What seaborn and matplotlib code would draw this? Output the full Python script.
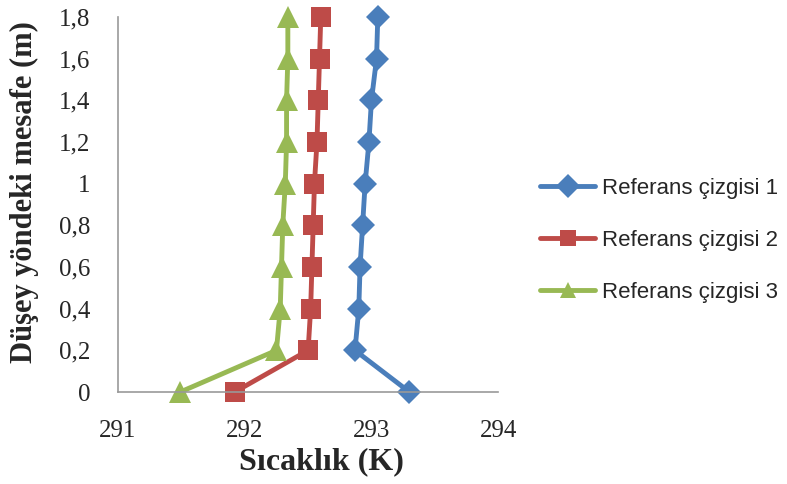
import pandas as pd
import matplotlib.pyplot as plt
import seaborn as sns

# Datos
mesafe = [0, 0.2, 0.4, 0.6, 0.8, 1.0, 1.2, 1.4, 1.6, 1.8]
cizgi1 = [293.30, 292.87, 292.90, 292.91, 292.93, 292.95, 292.98, 293.00, 293.04, 293.05]
cizgi2 = [291.92, 292.50, 292.52, 292.53, 292.54, 292.55, 292.57, 292.58, 292.59, 292.60]
cizgi3 = [291.49, 292.25, 292.28, 292.29, 292.30, 292.32, 292.33, 292.33, 292.34, 292.34]
seriler = ["Referans çizgisi 1", "Referans çizgisi 2", "Referans çizgisi 3"]
x_ticks = [291, 292, 293, 294]
y_ticks = [0, 0.2, 0.4, 0.6, 0.8, 1.0, 1.2, 1.4, 1.6, 1.8]

renkler = ["#4A7EBB", "#BE4B48", "#98B954"]
isaretler = ["D", "s", "^"]
boyutlar = [12, 15, 16]

df = pd.concat([
    pd.DataFrame({"mesafe": mesafe, "sicaklik": vals, "seri": name})
    for name, vals in zip(seriler, [cizgi1, cizgi2, cizgi3])
])

sns.set_style("white")
plt.rcParams['font.family'] = ['Liberation Serif', 'DejaVu Serif']

fig = plt.figure(figsize=(7.87, 4.84), dpi=100)
ax = fig.add_axes([0.150, 0.190, 0.483, 0.775])

sns.lineplot(data=df, x="sicaklik", y="mesafe", hue="seri", style="seri",
             palette=dict(zip(seriler, renkler)),
             markers=dict(zip(seriler, isaretler)), dashes=False,
             sort=False, estimator=None, orient="y",
             linewidth=3.5, markersize=12, markeredgewidth=0, ax=ax)

# tamaño de marcador por serie
for line, ms in zip(ax.lines[:3], boyutlar):
    line.set_markersize(ms)
    line.set_clip_on(False)

ax.set_xlim(291, 294)
ax.set_ylim(0, 1.8)
ax.set_xticks(x_ticks)
ax.set_xticklabels([str(t) for t in x_ticks])
ax.set_yticks(y_ticks)
ax.set_yticklabels([f"{t:g}".replace(".", ",") for t in y_ticks])
ax.tick_params(axis="both", length=0, labelsize=18)
ax.tick_params(axis="y", pad=20)
ax.tick_params(axis="x", pad=20)

for s in ["top", "right"]:
    ax.spines[s].set_visible(False)
for s in ["left", "bottom"]:
    ax.spines[s].set_color("#999999")
    ax.spines[s].set_linewidth(1.2)

ax.set_xlabel("Sıcaklık (K)", fontsize=23, fontweight="bold", va="center")
ax.set_ylabel("Düşey yöndeki mesafe (m)", fontsize=22, fontweight="bold", va="center")
ax.xaxis.set_label_coords(0.534, -0.187)
ax.yaxis.set_label_coords(-0.247, 0.533)

handles, labels = ax.get_legend_handles_labels()
ax.legend(handles, labels, loc="center left", bbox_to_anchor=(1.057, 0.405),
          frameon=False, handlelength=2.5, handletextpad=0.3, labelspacing=1.4,
          prop={"family": "Liberation Sans", "size": 16})

plt.savefig("out.png", dpi=100)
